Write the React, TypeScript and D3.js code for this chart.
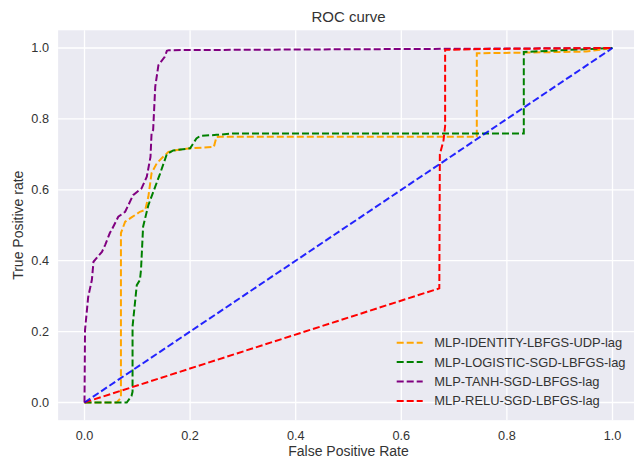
import React from "react";
import * as d3 from "d3";

const W = 634;
const H = 458;

const ticks = [0, 0.2, 0.4, 0.6, 0.8, 1.0];
const tickLabels = ["0.0", "0.2", "0.4", "0.6", "0.8", "1.0"];

const seriesNames = [
  "MLP-IDENTITY-LBFGS-UDP-lag",
  "MLP-LOGISTIC-SGD-LBFGS-lag",
  "MLP-TANH-SGD-LBFGS-lag",
  "MLP-RELU-SGD-LBFGS-lag",
];
const seriesColors = ["orange", "green", "purple", "red"];

const identityFpr = [0, 0.061, 0.069, 0.069, 0.077, 0.089, 0.105, 0.115, 0.121, 0.127, 0.137, 0.149, 0.159, 0.175, 0.2, 0.245, 0.25, 0.257, 0.743, 0.743, 0.95, 1.0];
const identityTpr = [0, 0, 0.013, 0.478, 0.51, 0.522, 0.538, 0.543, 0.581, 0.647, 0.675, 0.693, 0.707, 0.712, 0.717, 0.721, 0.749, 0.75, 0.75, 0.985, 0.99, 1.0];

const logisticFpr = [0, 0.08, 0.089, 0.091, 0.091, 0.099, 0.105, 0.107, 0.111, 0.121, 0.134, 0.143, 0.156, 0.168, 0.2, 0.212, 0.219, 0.25, 0.282, 0.832, 0.832, 1.0];
const logisticTpr = [0, 0, 0.018, 0.03, 0.214, 0.331, 0.346, 0.374, 0.496, 0.557, 0.609, 0.645, 0.701, 0.711, 0.717, 0.745, 0.752, 0.755, 0.759, 0.759, 0.989, 1.0];

const tanhFpr = [0, 0.001, 0.007, 0.014, 0.017, 0.033, 0.039, 0.048, 0.0515, 0.064, 0.077, 0.092, 0.108, 0.118, 0.125, 0.127, 0.13, 0.134, 0.14, 0.152, 0.156, 0.16, 1.0];
const tanhTpr = [0, 0.205, 0.298, 0.346, 0.397, 0.425, 0.444, 0.478, 0.487, 0.524, 0.538, 0.585, 0.604, 0.637, 0.693, 0.759, 0.769, 0.891, 0.952, 0.975, 0.992, 0.994, 1.0];

const reluFpr = [0, 0.672, 0.673, 0.68, 0.683, 0.683, 0.75, 1.0];
const reluTpr = [0, 0.322, 0.7, 0.74, 0.78, 0.995, 0.997, 1.0];

const randomFpr = [0, 1];
const randomTpr = [0, 1];

const seriesFpr = [identityFpr, logisticFpr, tanhFpr, reluFpr];
const seriesTpr = [identityTpr, logisticTpr, tanhTpr, reluTpr];

const FONT = "'Liberation Sans', Arial, sans-serif";

export default function App() {
  const left = 58.1;
  const right = 638.9;
  const top = 30.3;
  const bottom = 420.2;
  const x = d3.scaleLinear().domain([-0.05, 1.05]).range([left, right]);
  const y = d3.scaleLinear().domain([-0.05, 1.05]).range([bottom, top]);

  const line = d3
    .line<[number, number]>()
    .x((d) => x(d[0]))
    .y((d) => y(d[1]));

  const mk = (fx: number[], ty: number[]) =>
    fx.map((v, i) => [v, ty[i]] as [number, number]);

  const legendX0 = 396.7;
  const legendX1 = 422.7;
  const legendTextX = 434.3;
  const legendY0 = 342.7;
  const legendDy = 19.4;

  return (
    <svg
      width={W}
      height={H}
      style={{ position: "absolute", left: 0, top: 0, background: "#fff" }}
    >
      <defs>
        <clipPath id="plotclip">
          <rect x={left} y={top} width={right - left} height={bottom - top} />
        </clipPath>
      </defs>
      <rect x={left} y={top} width={right - left} height={bottom - top} fill="#EAEAF2" />
      {ticks.map((t) => (
        <line key={"gx" + t} x1={x(t)} x2={x(t)} y1={top} y2={bottom} stroke="#fff" strokeWidth={1.3} />
      ))}
      {ticks.map((t) => (
        <line key={"gy" + t} x1={left} x2={right} y1={y(t)} y2={y(t)} stroke="#fff" strokeWidth={1.3} />
      ))}
      <g clipPath="url(#plotclip)">
        {seriesFpr.map((fx, i) => (
          <path
            key={seriesNames[i]}
            d={line(mk(fx, seriesTpr[i])) || ""}
            fill="none"
            stroke={seriesColors[i]}
            strokeWidth={2}
            strokeDasharray="7,3"
          />
        ))}
        <path
          d={line(mk(randomFpr, randomTpr)) || ""}
          fill="none"
          stroke="blue"
          strokeOpacity={0.85}
          strokeWidth={2}
          strokeDasharray="7,3"
        />
      </g>
      {ticks.map((t, i) => (
        <text key={"xt" + t} x={x(t)} y={440} textAnchor="middle" fontFamily={FONT} fontSize={12.7} fill="#333">
          {tickLabels[i]}
        </text>
      ))}
      {ticks.map((t, i) => (
        <text key={"yt" + t} x={49} y={y(t)} dy="0.35em" textAnchor="end" fontFamily={FONT} fontSize={12.7} fill="#333">
          {tickLabels[i]}
        </text>
      ))}
      <text x={(left + right) / 2} y={456} textAnchor="middle" fontFamily={FONT} fontSize={14} fill="#333">
        False Positive Rate
      </text>
      <text
        transform={`translate(23,${(top + bottom) / 2}) rotate(-90)`}
        textAnchor="middle"
        fontFamily={FONT}
        fontSize={14}
        fill="#333"
      >
        True Positive rate
      </text>
      <text x={(left + right) / 2} y={22} textAnchor="middle" fontFamily={FONT} fontSize={15} fill="#333">
        ROC curve
      </text>
      {seriesNames.map((n, i) => (
        <g key={"lg" + n}>
          <line
            x1={legendX0}
            x2={legendX1}
            y1={legendY0 + i * legendDy}
            y2={legendY0 + i * legendDy}
            stroke={seriesColors[i]}
            strokeWidth={2}
            strokeDasharray="7,3"
          />
          <text
            x={legendTextX}
            y={legendY0 + i * legendDy}
            dy="0.35em"
            fontFamily={FONT}
            fontSize={12.9}
            fill="#333"
          >
            {n}
          </text>
        </g>
      ))}
    </svg>
  );
}
